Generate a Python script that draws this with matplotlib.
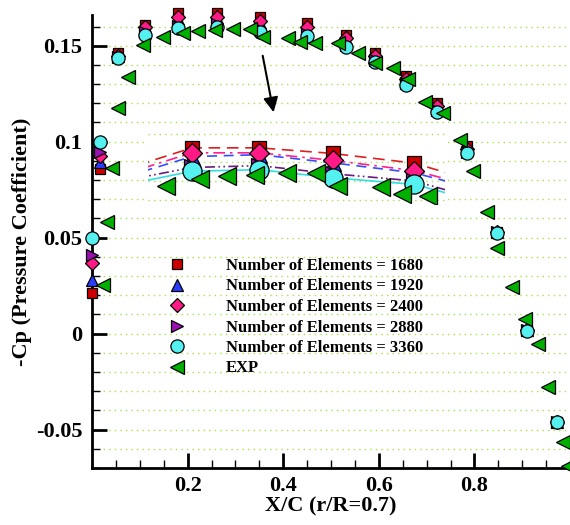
import matplotlib.pyplot as plt
from matplotlib.ticker import MultipleLocator, FuncFormatter

# X/C stations of the computations
x_sim = [0.0, 0.017, 0.054, 0.111, 0.180, 0.262, 0.351, 0.450, 0.531,
         0.592, 0.657, 0.722, 0.785, 0.847, 0.910, 0.973]

# -Cp for each mesh
cp_1680 = [0.021, 0.086, 0.146, 0.161, 0.1668, 0.1668, 0.1650, 0.1619, 0.1556,
           0.1463, 0.1343, 0.1202, 0.0979, 0.0530, 0.0020, -0.0460]
cp_1920 = [0.028, 0.0895, 0.1445, 0.1585, 0.1640, 0.1646, 0.1620, 0.1588, 0.1533,
           0.1441, 0.1320, 0.1180, 0.0958, 0.0527, 0.0018, -0.0459]
cp_2400 = [0.037, 0.0925, 0.1448, 0.1595, 0.1652, 0.1652, 0.1628, 0.1595, 0.1540,
           0.1447, 0.1327, 0.1187, 0.0963, 0.0528, 0.0018, -0.0459]
cp_2880 = [0.041, 0.0945, 0.1440, 0.1570, 0.1605, 0.1611, 0.1585, 0.1562, 0.1502,
           0.1424, 0.1304, 0.1163, 0.0948, 0.0527, 0.0017, -0.0458]
cp_3360 = [0.050, 0.100, 0.1437, 0.1556, 0.1593, 0.1598, 0.1572, 0.1551, 0.1494,
           0.1416, 0.1296, 0.1155, 0.0942, 0.0526, 0.0016, -0.0458]

# experiment
x_exp = [0.023, 0.031, 0.042, 0.054, 0.075, 0.107, 0.149, 0.190, 0.222, 0.257,
         0.295, 0.331, 0.358, 0.410, 0.435, 0.467, 0.515, 0.556, 0.592, 0.630,
         0.661, 0.697, 0.734, 0.770, 0.797, 0.826, 0.847, 0.879, 0.906, 0.933,
         0.954, 0.985, 0.996]
cp_exp = [0.0255, 0.0583, 0.0864, 0.1176, 0.1338, 0.1504, 0.1546, 0.1567, 0.1577,
          0.1582, 0.1588, 0.1588, 0.1546, 0.1541, 0.1520, 0.1515, 0.1515, 0.1463,
          0.1410, 0.1385, 0.1327, 0.1208, 0.1150, 0.1010, 0.0849, 0.0635, 0.0448,
          0.0245, 0.0078, -0.0052, -0.0276, -0.0562, -0.0692]

labels = ["Number of Elements = 1680", "Number of Elements = 1920",
          "Number of Elements = 2400", "Number of Elements = 2880",
          "Number of Elements = 3360", "EXP"]

plt.rcParams['font.family'] = ['Liberation Serif', 'DejaVu Serif']
plt.rcParams['font.weight'] = 'bold'

sims = [cp_1680, cp_1920, cp_2400, cp_2880, cp_3360]
markers = ['s', '^', 'D', '>', 'o']
colors = ['#CC0000', '#2a3cff', '#ff1a85', '#9a10b0', '#55f0f0']
msizes = [6.5, 8, 7, 8, 9.5]
lcolors = ['#dd2020', '#3050ff', '#ff2090', '#6a1a80', '#30e0e0']
lstyles = [(0, (7, 4)), (0, (6, 4)), (0, (7, 3, 1.5, 3)), (0, (6, 2, 1, 2, 1, 2)), '-']
green = '#00b000'

fig = plt.figure(figsize=(5.7, 5.25), dpi=100)
ax = fig.add_axes([92 / 570, 57 / 525, 478 / 570, 453 / 525])

handles = []
for cp, m, c, s in zip(sims, markers, colors, msizes):
    h, = ax.plot(x_sim, cp, linestyle='none', marker=m, ms=s, mfc=c, mec='black',
                 mew=0.9, clip_on=False, zorder=3)
    handles.append(h)
h, = ax.plot(x_exp, cp_exp, linestyle='none', marker='<', ms=9.5, mfc=green,
             mec='black', mew=0.9, clip_on=False, zorder=4)
handles.append(h)

ax.set_xlim(0, 1.0)
ax.set_ylim(-0.07, 0.166)
ax.set_xticks([0.2, 0.4, 0.6, 0.8])
ax.xaxis.set_minor_locator(MultipleLocator(0.05))
ax.yaxis.set_major_locator(MultipleLocator(0.05))
ax.yaxis.set_minor_locator(MultipleLocator(0.01))
ax.yaxis.set_major_formatter(FuncFormatter(lambda v, p: '%g' % round(v, 3)))
ax.xaxis.set_major_formatter(FuncFormatter(lambda v, p: '%g' % round(v, 3)))
ax.tick_params(which='major', direction='in', length=11, width=2, labelsize=16, pad=7)
ax.tick_params(axis='x', which='major', pad=6)
ax.tick_params(which='minor', direction='in', length=6, width=1)
ax.yaxis.grid(True, which='both', linestyle=(0, (1, 3)), color='#a8e050', lw=1)
ax.set_axisbelow(True)
for side in ['top', 'right']:
    ax.spines[side].set_visible(False)
for side in ['left', 'bottom']:
    ax.spines[side].set_linewidth(2)

ax.set_xlabel('X/C (r/R=0.7)', fontsize=16, fontweight='bold', labelpad=0)
ax.set_ylabel('-Cp (Pressure Coefficient)', fontsize=16, fontweight='bold', labelpad=3)

ax.annotate('', xy=(0.381, 0.1139), xytext=(0.356, 0.1462),
            arrowprops=dict(arrowstyle='-|>', color='black', lw=1.5, mutation_scale=22))

fig.legend(handles, labels, loc='upper left', bbox_to_anchor=(160 / 570, 1 - 258 / 525),
           frameon=False, borderpad=0, borderaxespad=0,
           handlelength=2, handletextpad=1.95, labelspacing=0.27,
           prop={'weight': 'bold', 'size': 12})

# zoomed view of the suction peak
ins = fig.add_axes([148 / 570, (525 - 204) / 525, 297 / 570, 78 / 525], zorder=5)
ins.set_facecolor('white')
for cp, lc, ls in zip(sims, lcolors, lstyles):
    ins.plot(x_sim, cp, linestyle=ls, color=lc, lw=1.2, zorder=2)
for cp, m, c, s in zip(sims, markers, colors, msizes):
    ins.plot(x_sim, cp, linestyle='none', marker=m, ms=s * 1.45, mfc=c, mec='black',
             mew=0.9, zorder=3)
ins.plot(x_exp, cp_exp, linestyle='none', marker='<', ms=12.5, mfc=green,
         mec='black', mew=0.9, zorder=4)
ins.set_xlim(0.1265, 0.4878)
ins.set_ylim(0.1488, 0.1738)
ins.set_yticks([0.1711, 0.1624, 0.1562, 0.1501])
ins.yaxis.grid(True, linestyle=(0, (1, 3)), color='#a8e050', lw=1)
ins.tick_params(left=False, bottom=False, labelleft=False, labelbottom=False)
ins.set_xticks([])
for sp in ins.spines.values():
    sp.set_visible(False)

fig.savefig('out.png', dpi=100)
